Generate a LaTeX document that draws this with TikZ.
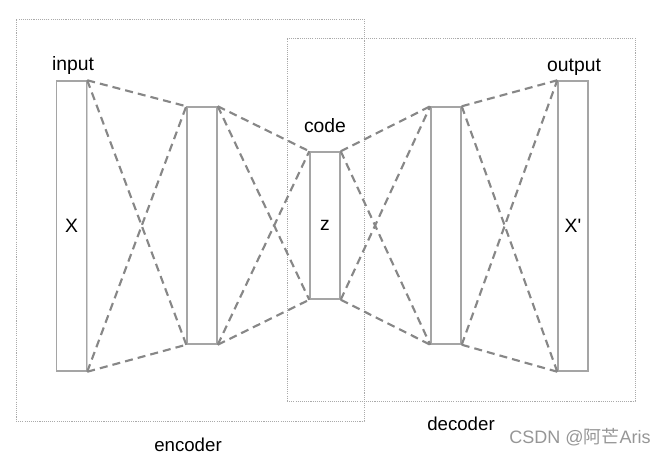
\documentclass[tikz,border=0pt]{standalone}
\usepackage{fontspec}
\setmainfont{Liberation Sans}
\newfontfamily\cjkfont{Noto Sans CJK SC}
\usetikzlibrary{shadows}
\definecolor{barline}{RGB}{165,165,165}
\definecolor{dashcol}{RGB}{135,135,135}
\definecolor{boxline}{RGB}{170,170,170}
\definecolor{wmark}{RGB}{150,150,150}
\tikzset{
  bar/.style={draw=barline, fill=white, line width=1.1pt, inner sep=0pt,
    minimum width=22.5pt, drop shadow={opacity=0.35, shadow xshift=0.9pt, shadow yshift=-0.6pt},
    font=\fontsize{14.5}{16}\selectfont},
  link/.style={draw=dashcol, line width=1.6pt, dash pattern=on 6pt off 3.8pt},
  frame/.style={draw=boxline, line width=0.6pt, dash pattern=on 0.8pt off 0.8pt, inner sep=0pt},
  lbl/.style={inner sep=0pt, font=\fontsize{14.5}{16}\selectfont},
}
\begin{document}
\begin{tikzpicture}[x=0.75pt, y=-0.75pt]
\useasboundingbox (0,0) rectangle (667,457);
% frames
\node[frame, minimum width=261pt, minimum height=301.5pt] (enc) at (190,220) {};
\node[frame, minimum width=261pt, minimum height=272.25pt] (dec) at (461,219.5) {};
% bars
\node[bar, minimum height=217.5pt] (in) at (71.5,226) {X};
\node[bar, minimum height=177.75pt] (h1) at (202,225.5) {};
\node[bar, minimum height=110.25pt] (code) at (325,225.5) {z};
\node[bar, minimum height=177.75pt] (h2) at (446,225.5) {};
\node[bar, minimum height=217.5pt] (out) at (573,226) {X\textquotesingle};
% labels
\node[lbl] (lin) at (73,65) {input};
\node[lbl] (lcode) at (325,126) {code};
\node[lbl] (lout) at (574,67) {output};
\node[lbl, font=\fontsize{14}{16}\selectfont] (lenc) at (188,445) {encoder};
\node[lbl, font=\fontsize{14}{16}\selectfont] (ldec) at (461,424) {decoder};
\node[inner sep=0pt, text=wmark, font=\fontsize{13.5}{15}\selectfont] (wm) at (580,437) {CSDN @{\cjkfont 阿芒}Aris};
% connectors
\foreach \a/\b in {in/h1, h1/code, code/h2, h2/out}{
  \draw[link] (\a.north east) -- (\b.north west);
  \draw[link] (\a.north east) -- (\b.south west);
  \draw[link] (\a.south east) -- (\b.north west);
  \draw[link] (\a.south east) -- (\b.south west);
}
\end{tikzpicture}
\end{document}
